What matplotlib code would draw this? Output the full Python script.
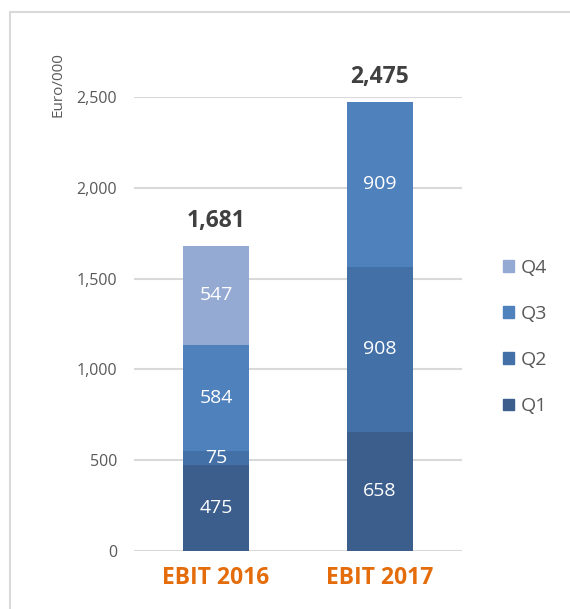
import matplotlib.pyplot as plt
from matplotlib.patches import Rectangle, Patch

plt.rcParams['font.family'] = ['Open Sans', 'DejaVu Sans']

categories = ["EBIT 2016", "EBIT 2017"]
quarters = ["Q1", "Q2", "Q3", "Q4"]
q1 = [475, 658]
q2 = [75, 908]
q3 = [584, 909]
q4 = [547, 0]
totals = [1681, 2475]
colors = ["#3B5E8C", "#4470A8", "#4F81BD", "#95AAD2"]

fig = plt.figure(figsize=(5.7, 6.09), dpi=100)
fig.patches.append(Rectangle((10 / 570, -0.05), 1.1, 1 - 12 / 609 + 0.05,
                             transform=fig.transFigure, fill=False,
                             edgecolor="#D9D9D9", linewidth=1.5))

ax = fig.add_axes([134 / 570, 1 - 551 / 609, (462 - 134) / 570, (551 - 97) / 609])

x = [0, 1]
width = 0.4
bottom = [0, 0]
for name, vals, col in zip(quarters, [q1, q2, q3, q4], colors):
    ax.bar(x, vals, width, bottom=bottom, color=col, label=name, zorder=3)
    for xi, v, b in zip(x, vals, bottom):
        if v > 0:
            ax.text(xi, b + v / 2, f"{v:,}", ha="center", va="center",
                    color="white", fontsize=14, zorder=4)
    bottom = [b + v for b, v in zip(bottom, vals)]

for xi, t in zip(x, totals):
    ax.text(xi, t + 70, f"{t:,}", ha="center", va="bottom", fontsize=16.5,
            fontweight="bold", color="#404040", clip_on=False)

ax.set_xlim(-0.5, 1.5)
ax.set_ylim(0, 2500)
ax.set_yticks(range(0, 2501, 500))
ax.set_yticklabels([f"{v:,}" for v in range(0, 2501, 500)], color="#595959", fontsize=11.5)
ax.yaxis.grid(True, color="#D9D9D9", linewidth=1.5, zorder=0)
ax.tick_params(axis="y", length=0, pad=12)
ax.tick_params(axis="x", length=0, pad=11)
ax.set_xticks(x)
ax.set_xticklabels(categories, color="#E46C0A", fontsize=16.5, fontweight="bold")
for s in ax.spines.values():
    s.set_visible(False)

fig.text(58 / 570, 1 - 85 / 609, "Euro/000", rotation=90, ha="center", va="center",
         fontsize=11, color="#595959")

handles = [Patch(color=c, label=q) for q, c in zip(quarters, colors)][::-1]
fig.legend(handles=handles, loc="center left", bbox_to_anchor=(503 / 570, 1 - 337 / 609),
           frameon=False, fontsize=14, labelcolor="#595959", handlelength=0.55,
           handleheight=0.55, handletextpad=0.35, labelspacing=1.45,
           borderpad=0, borderaxespad=0)

fig.savefig("out.png", dpi=100)
